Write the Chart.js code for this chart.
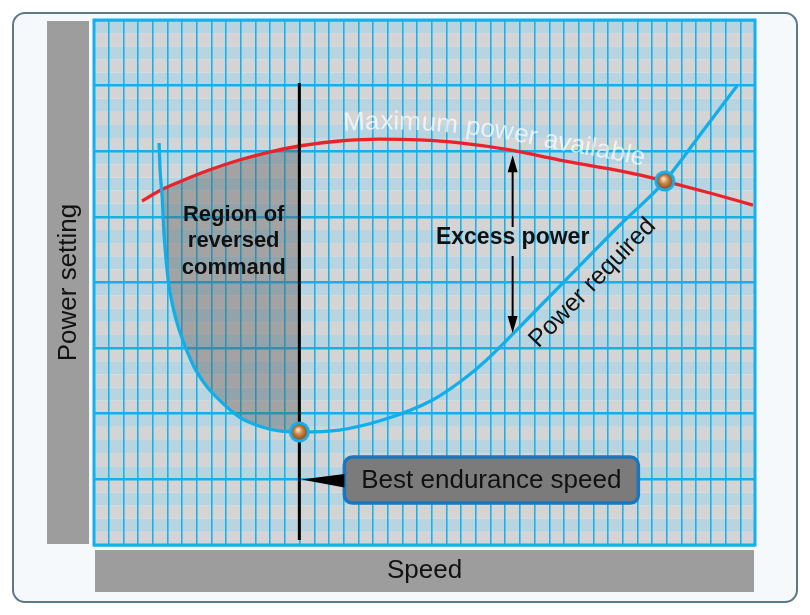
<!DOCTYPE html>
<html>
<head>
<meta charset="utf-8">
<script src="https://cdn.jsdelivr.net/npm/chart.js@4.4.1/dist/chart.umd.min.js"></script>
<style>
  html, body { margin: 0; padding: 0; background: #fff; }
  #wrap { width: 810px; height: 615px; }
</style>
</head>
<body>
<div id="wrap"><canvas id="powerChart" width="810" height="615"></canvas></div>
<script>
// speed runs over 45 grid columns, power setting over 40 minor bands (major line every 5)
const speedMax = 45;
const powerMax = 40;
const powerMajorStep = 5;

// Power required curve
const requiredSpeed = [4.43, 4.50, 4.64, 4.77, 5.05, 5.39, 5.80, 6.68, 7.50, 8.32, 9.89, 11.45, 12.61, 13.98,
  16.70, 19.64, 23.05, 25.09, 26.73, 28.98, 32.39, 35.80, 38.86, 41.25, 43.77];
const requiredPower = [30.63, 28.57, 26.51, 23.62, 20.19, 18.06, 16.38, 13.87, 12.34, 11.28, 9.75, 8.99, 8.69, 8.61,
  8.76, 9.52, 11.05, 12.57, 14.10, 16.61, 20.50, 24.38, 27.73, 31.24, 34.97];

// Maximum power available curve
const availableSpeed = [3.27, 4.43, 5.80, 7.84, 9.89, 11.93, 13.98, 16.70, 19.43, 22.16, 24.89, 28.30, 31.70,
  35.11, 38.05, 38.86, 41.93, 44.86];
const availablePower = [26.21, 26.97, 27.66, 28.57, 29.33, 29.94, 30.40, 30.78, 30.93, 30.86, 30.63, 30.10, 29.33,
  28.65, 27.96, 27.73, 26.82, 25.90];

// special points
const bestEndurance = { x: 13.98, y: 8.61 };
const maxSpeedPoint = { x: 38.86, y: 27.73 };
const leftCrossing = { x: 4.60, y: 27.05 };
const bestLineRange = [0.38, 35.2];

// excess power arrow and labels
const excessArrow = { x: 28.5, top: 29.7, bottom: 16.15, label: 23.4 };
const regionLines = ['Region of', 'reversed', 'command'];
const regionAnchor = { x: 9.51, y: 23.16 };
const requiredLabelAnchor = { x: 33.95, y: 19.96 };
const availableLabelStart = 17.0;
const calloutPower = 4.95;

const xAxisTitle = 'Speed';
const yAxisTitle = 'Power setting';
const availableTitle = 'Maximum power available';
const requiredTitle = 'Power required';
const excessTitle = 'Excess power';
const calloutTitle = 'Best endurance speed';

const FONT = '"Liberation Sans", Arial, sans-serif';

const toPoints = (xs, ys) => xs.map((x, i) => ({ x: x, y: ys[i] }));
const requiredPts = toPoints(requiredSpeed, requiredPower);
const availablePts = toPoints(availableSpeed, availablePower);

// shaded region: left branch of power required up to best endurance, back along power available
const regionPts = [leftCrossing]
  .concat(requiredPts.filter(p => p.x > leftCrossing.x && p.x <= bestEndurance.x))
  .concat(availablePts.filter(p => p.x > leftCrossing.x && p.x <= bestEndurance.x).reverse());

function makeBall() {
  const c = document.createElement('canvas');
  c.width = c.height = 22;
  const g = c.getContext('2d');
  g.beginPath(); g.arc(11, 11, 10.5, 0, Math.PI * 2);
  g.fillStyle = '#18aee9'; g.fill();
  const grad = g.createRadialGradient(9.5, 8.5, 0.5, 11, 11, 8);
  grad.addColorStop(0, '#fbe7cf');
  grad.addColorStop(0.45, '#d0894a');
  grad.addColorStop(1, '#8a4a1a');
  g.beginPath(); g.arc(11, 11, 7.5, 0, Math.PI * 2);
  g.fillStyle = grad; g.fill();
  return c;
}

function roundRect(ctx, x, y, w, h, r) {
  ctx.beginPath();
  ctx.moveTo(x + r, y);
  ctx.arcTo(x + w, y, x + w, y + h, r);
  ctx.arcTo(x + w, y + h, x, y + h, r);
  ctx.arcTo(x, y + h, x, y, r);
  ctx.arcTo(x, y, x + w, y, r);
  ctx.closePath();
}

// frame, grey title boxes and the striped plot background
const backdrop = {
  id: 'backdrop',
  beforeDraw(chart) {
    const { ctx, chartArea: a, scales } = chart;
    ctx.save();
    ctx.fillStyle = '#ffffff';
    ctx.fillRect(0, 0, chart.width, chart.height);
    roundRect(ctx, 13, 13, 784, 589, 12);
    ctx.fillStyle = '#f6f9fc'; ctx.fill();
    ctx.lineWidth = 2; ctx.strokeStyle = '#5d7886'; ctx.stroke();

    ctx.fillStyle = '#9d9d9d';
    ctx.fillRect(a.left - 47, a.top + 1, 42, a.bottom - a.top - 2);
    ctx.fillRect(a.left + 1, a.bottom + 5, a.right - a.left - 2, 42);

    ctx.fillStyle = '#111';
    ctx.font = '26px ' + FONT;
    ctx.textAlign = 'center';
    ctx.textBaseline = 'middle';
    ctx.fillText(xAxisTitle, (a.left + a.right) / 2, a.bottom + 26);
    ctx.save();
    ctx.translate(a.left - 26, (a.top + a.bottom) / 2);
    ctx.rotate(-Math.PI / 2);
    ctx.fillText(yAxisTitle, 0, 1);
    ctx.restore();

    const ys = scales.y;
    for (let v = 0; v < powerMax; v++) {
      const y0 = ys.getPixelForValue(v + 1), y1 = ys.getPixelForValue(v);
      ctx.fillStyle = v % 2 ? '#b9d4e1' : '#d4d4d4';
      ctx.fillRect(a.left, y0, a.right - a.left, y1 - y0);
    }
    ctx.restore();
  },
  beforeDatasetsDraw(chart) {
    const { ctx, chartArea: a } = chart;
    ctx.save();
    ctx.strokeStyle = '#12b0ec';
    ctx.lineWidth = 3;
    ctx.strokeRect(a.left, a.top, a.right - a.left, a.bottom - a.top);
    ctx.restore();
  }
};

function drawTextAlong(ctx, pts, text, startX, offset) {
  const cum = [0];
  for (let i = 1; i < pts.length; i++) {
    cum.push(cum[i - 1] + Math.hypot(pts[i].x - pts[i - 1].x, pts[i].y - pts[i - 1].y));
  }
  const at = s => {
    let i = 1;
    while (i < pts.length - 1 && cum[i] < s) i++;
    const t = (s - cum[i - 1]) / (cum[i] - cum[i - 1]);
    return { x: pts[i - 1].x + (pts[i].x - pts[i - 1].x) * t, y: pts[i - 1].y + (pts[i].y - pts[i - 1].y) * t };
  };
  let s = 0;
  while (at(s).x < startX && s < cum[cum.length - 1]) s += 0.5;
  for (const ch of text) {
    const w = ctx.measureText(ch).width;
    const mid = s + w / 2;
    const p = at(mid), p0 = at(mid - 8), p1 = at(mid + 8);
    const ang = Math.atan2(p1.y - p0.y, p1.x - p0.x);
    ctx.save();
    ctx.translate(p.x + Math.sin(ang) * offset, p.y - Math.cos(ang) * offset);
    ctx.rotate(ang);
    ctx.fillText(ch, 0, 0);
    ctx.restore();
    s += w;
  }
}

const labels = {
  id: 'labels',
  afterDatasetsDraw(chart) {
    const { ctx, scales } = chart;
    const xs = scales.x, ys = scales.y;
    ctx.save();

    // curved label over the power available line
    const redPts = chart.getDatasetMeta(3).data.map(p => ({ x: p.x, y: p.y }));
    ctx.font = '26px ' + FONT;
    ctx.fillStyle = 'rgba(255,255,255,0.7)';
    ctx.textAlign = 'center';
    ctx.textBaseline = 'alphabetic';
    drawTextAlong(ctx, redPts, availableTitle, xs.getPixelForValue(availableLabelStart), 10);

    // power required, along the rising branch
    ctx.fillStyle = '#111';
    ctx.font = '25px ' + FONT;
    ctx.textBaseline = 'middle';
    ctx.save();
    ctx.translate(xs.getPixelForValue(requiredLabelAnchor.x), ys.getPixelForValue(requiredLabelAnchor.y));
    ctx.rotate(-0.80);
    ctx.fillText(requiredTitle, 0, 0);
    ctx.restore();

    // region of reversed command
    ctx.font = 'bold 22px ' + FONT;
    const rx = xs.getPixelForValue(regionAnchor.x), ry = ys.getPixelForValue(regionAnchor.y);
    regionLines.forEach((t, i) => ctx.fillText(t, rx, ry + (i - 1) * 26.5));

    // excess power double arrow
    const ax = xs.getPixelForValue(excessArrow.x);
    const top = ys.getPixelForValue(excessArrow.top);
    const bot = ys.getPixelForValue(excessArrow.bottom);
    const ly = ys.getPixelForValue(excessArrow.label);
    ctx.font = 'bold 23px ' + FONT;
    ctx.fillText(excessTitle, ax, ly);
    ctx.strokeStyle = '#000';
    ctx.lineWidth = 2;
    ctx.beginPath();
    ctx.moveTo(ax, top + 12); ctx.lineTo(ax, ly - 11);
    ctx.moveTo(ax, ly + 18); ctx.lineTo(ax, bot - 12);
    ctx.stroke();
    ctx.fillStyle = '#000';
    ctx.beginPath();
    ctx.moveTo(ax, top); ctx.lineTo(ax - 5, top + 17); ctx.lineTo(ax + 5, top + 17); ctx.closePath();
    ctx.moveTo(ax, bot); ctx.lineTo(ax - 5, bot - 17); ctx.lineTo(ax + 5, bot - 17); ctx.closePath();
    ctx.fill();

    // best endurance speed callout
    const bx = xs.getPixelForValue(bestEndurance.x);
    const cy = ys.getPixelForValue(calloutPower);
    const left = bx + 45, w = 294, h = 46;
    roundRect(ctx, left, cy - h / 2, w, h, 8);
    ctx.fillStyle = '#7b7b7b'; ctx.fill();
    ctx.lineWidth = 3.5; ctx.strokeStyle = '#1b76c0'; ctx.stroke();
    ctx.fillStyle = '#000';
    ctx.beginPath();
    ctx.moveTo(bx + 2, cy - 0.5);
    ctx.lineTo(left, cy - 6);
    ctx.lineTo(left, cy + 7.5);
    ctx.closePath();
    ctx.fill();
    ctx.fillStyle = '#111';
    ctx.font = '26px ' + FONT;
    ctx.fillText(calloutTitle, left + w / 2, cy + 1);

    ctx.restore();
  }
};

const ctx = document.getElementById('powerChart');
new Chart(ctx, {
  type: 'line',
  data: {
    datasets: [
      {
        label: 'points',
        data: [bestEndurance, maxSpeedPoint],
        showLine: false,
        pointStyle: makeBall(),
        pointRadius: 11,
        order: 0
      },
      {
        label: 'best endurance',
        data: [{ x: bestEndurance.x, y: bestLineRange[0] }, { x: bestEndurance.x, y: bestLineRange[1] }],
        borderColor: '#000',
        borderWidth: 3,
        tension: 0,
        pointRadius: 0,
        order: 1
      },
      {
        label: requiredTitle,
        data: requiredPts,
        borderColor: '#10afea',
        borderWidth: 3.3,
        cubicInterpolationMode: 'monotone',
        pointRadius: 0,
        order: 2
      },
      {
        label: availableTitle,
        data: availablePts,
        borderColor: '#e8232b',
        borderWidth: 3.3,
        cubicInterpolationMode: 'monotone',
        pointRadius: 0,
        order: 3
      },
      {
        label: 'region',
        data: regionPts,
        borderWidth: 0,
        borderColor: 'rgba(0,0,0,0)',
        backgroundColor: 'rgba(95,95,95,0.42)',
        fill: 'shape',
        tension: 0,
        pointRadius: 0,
        order: 4
      }
    ]
  },
  options: {
    responsive: false,
    animation: false,
    layout: { padding: { left: 94, right: 55, top: 20, bottom: 70 } },
    plugins: { legend: { display: false }, tooltip: { enabled: false } },
    scales: {
      x: {
        type: 'linear', min: 0, max: speedMax,
        ticks: { display: false, stepSize: 1, maxTicksLimit: 100 },
        grid: { color: '#1bb2ea', lineWidth: 1.6, drawTicks: false },
        border: { display: false }
      },
      y: {
        type: 'linear', min: 0, max: powerMax,
        ticks: { display: false, stepSize: powerMajorStep },
        grid: { color: '#14b0ea', lineWidth: 2.6, drawTicks: false },
        border: { display: false }
      }
    }
  },
  plugins: [backdrop, labels]
});
</script>
</body>
</html>
